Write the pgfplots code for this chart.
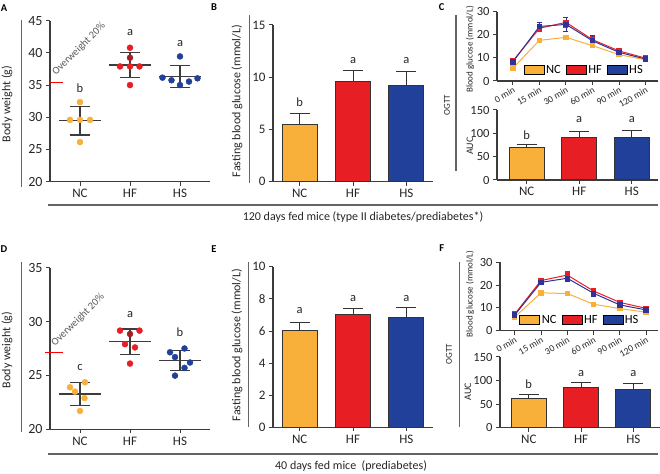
\documentclass[border=0pt]{standalone}
\usepackage{pgfplots}
\pgfplotsset{compat=1.18}
\usepackage{fontspec}
\setmainfont{Carlito}
\definecolor{ncC}{RGB}{249,176,59}
\definecolor{hfC}{RGB}{232,30,37}
\definecolor{hfD}{RGB}{165,30,35}
\definecolor{hsC}{RGB}{33,64,154}
\definecolor{lnHS}{RGB}{50,50,150}
\definecolor{axC}{RGB}{60,60,60}
\definecolor{grC}{RGB}{100,100,100}
\newcommand{\fs}[1]{\fontsize{#1}{#1}\selectfont}
\tikzset{lett/.style={font=\fs{12.5}, text=black!85}}
\pgfplotsset{
  base/.style={scale only axis, anchor=south west, clip=false,
    axis x line*=bottom, axis y line*=left,
    axis line style={line width=1.1pt, axC},
    every tick/.style={line width=1pt, axC},
    tick align=outside, major tick length=4pt,
    /pgf/number format/assume math mode=true,
    tick label style={font=\fs{12.5}, text=black!85},
    xtick={0,1,2}, xticklabels={NC,HF,HS},
    x tick label style={font=\fs{13}},
  },
  bars/.style={ybar, bar width=35pt, bar shift=0pt, draw=black!80, line width=1pt,
    error bars/y dir=plus, error bars/y explicit,
    error bars/error bar style={line width=1pt, black!80},
    error bars/error mark options={line width=1pt, black!80, mark size=10pt, rotate=90}},
  dots/.style={only marks, mark=*, mark size=3pt},
  mean/.style={no marks, line width=1.3pt, axC},
  sd/.style={draw=none, mark=none, error bars/y dir=both, error bars/y explicit,
    error bars/error bar style={line width=1.3pt, axC},
    error bars/error mark options={line width=1.3pt, axC, mark size=10pt, rotate=90}},
  ogtt/.style={line width=1pt, mark=square*, mark size=2.2pt,
    error bars/y dir=both, error bars/y explicit,
    error bars/error bar style={line width=0.8pt},
    error bars/error mark options={line width=0.8pt, mark size=2.5pt, rotate=90}},
}
\begin{document}
\begin{tikzpicture}[x=1pt,y=1pt]
\useasboundingbox (0,0) rectangle (660,473);

% ---------------- Panel A ----------------
\begin{axis}[base, at={(50pt,291.3pt)}, width=160pt, height=161pt,
  xmin=-0.6, xmax=2.6, ymin=20, ymax=45, ytick={20,25,30,35,40,45},
  y tick label style={font=\fs{14}}]
\addplot[dots, color=ncC] coordinates {(0,32.35) (-0.2,29.6) (0,29.6) (0.2,29.6) (0,26.15)};
\addplot[dots, color=hfC] coordinates {(1,40.8) (0.8,37.9) (1,37.9) (1.19,37.9) (1,35.0)};
\addplot[dots, color=hfD] coordinates {(1,39.25)};
\addplot[dots, color=hsC] coordinates {(2,39.45) (1.65,36.15) (1.83,35.75) (2.18,35.55) (2.35,36.05) (2,35.0)};
\addplot[mean] coordinates {(-0.42,29.45) (0.42,29.45)};
\addplot[mean] coordinates {(0.58,38.1) (1.42,38.1)};
\addplot[mean] coordinates {(1.58,36.35) (2.42,36.35)};
\addplot[sd] coordinates {(0,29.45) +- (0,2.2) (1,38.1) +- (0,1.95) (2,36.35) +- (0,1.7)};
\draw[red, line width=1pt] (axis cs:-0.6,35.4) -- (axis cs:-0.35,35.4);
\node[lett] at (axis cs:0,34.55) {b};
\node[lett] at (axis cs:1,43.1) {a};
\node[lett] at (axis cs:2,41.5) {a};
\end{axis}

% ---------------- Panel B ----------------
\begin{axis}[base, at={(273pt,291.3pt)}, width=160pt, height=156.7pt,
  xmin=-0.5, xmax=2.5, ymin=0, ymax=15, ytick={0,5,10,15},
  y tick label style={font=\fs{13}}]
\addplot[bars, fill=ncC] coordinates {(0,5.45) +- (0,1.1)};
\addplot[bars, fill=hfC] coordinates {(1,9.6) +- (0,1.05)};
\addplot[bars, fill=hsC] coordinates {(2,9.25) +- (0,1.3)};
\node[lett] at (axis cs:0,7.6) {b};
\node[lett] at (axis cs:1,11.6) {a};
\node[lett] at (axis cs:2,11.6) {a};
\end{axis}

% ---------------- Panel C top ----------------
\begin{axis}[base, at={(497pt,392pt)}, width=161pt, height=69.3pt,
  xmin=-0.6, xmax=5.47, ymin=0, ymax=30, ytick={0,10,20,30},
  xtick={0,1,2,3,4,5}, xticklabels={0 min,15 min,30 min,60 min,90 min,120 min},
  x tick label style={font=\fs{9.5}, rotate=30, anchor=north east, inner sep=1pt},
  legend style={at={(0.165,0.16)}, anchor=west, draw=none, fill=none, font=\fs{12.5},
    legend columns=-1, inner sep=0pt, /tikz/every even column/.append style={column sep=3pt}},
  legend image code/.code={\fill[#1] (0pt,-4.5pt) rectangle (20pt,4.5pt);}]
\addplot[ogtt, color=ncC, forget plot] coordinates {(0,5.6) +- (0,0.5) (1,17.6) +- (0,1.0) (2,18.9) +- (0,0.7) (3,15.3) +- (0,0.8) (4,11.4) +- (0,0.6) (5,9.2) +- (0,0.4)};
\addplot[ogtt, color=hfC, forget plot] coordinates {(0,8.7) +- (0,0.9) (1,22.8) +- (0,1.3) (2,25.4) +- (0,2.0) (3,17.9) +- (0,1.6) (4,13.0) +- (0,1.0) (5,9.9) +- (0,0.6)};
\addplot[ogtt, color=lnHS, forget plot] coordinates {(0,8.3) +- (0,1.0) (1,23.6) +- (0,1.8) (2,24.5) +- (0,3.0) (3,17.4) +- (0,2.2) (4,12.4) +- (0,1.0) (5,9.5) +- (0,0.6)};
\addlegendimage{fill=ncC}\addlegendentry{NC}
\addlegendimage{fill=hfC}\addlegendentry{HF}
\addlegendimage{fill=hsC}\addlegendentry{HS}
\end{axis}

% ---------------- Panel C bottom ----------------
\begin{axis}[base, at={(497pt,293pt)}, width=161pt, height=70pt,
  xmin=-0.566, xmax=2.5, ymin=0, ymax=150, ytick={0,50,100,150}]
\addplot[bars, fill=ncC] coordinates {(0,69.5) +- (0,7)};
\addplot[bars, fill=hfC] coordinates {(1,90) +- (0,13)};
\addplot[bars, fill=hsC] coordinates {(2,92) +- (0,15)};
\node[lett] at (axis cs:0,96) {b};
\node[lett] at (axis cs:1,130) {a};
\node[lett] at (axis cs:2,130) {a};
\end{axis}

% ---------------- Panel D ----------------
\begin{axis}[base, at={(50pt,43.7pt)}, width=160pt, height=161.6pt,
  xmin=-0.6, xmax=2.6, ymin=20, ymax=35, ytick={20,25,30,35},
  y tick label style={font=\fs{14}}]
\addplot[dots, color=ncC] coordinates {(-0.2,23.9) (0.1,24.36) (-0.1,23.5) (0.09,22.9) (0,21.7)};
\addplot[dots, color=hfC] coordinates {(0.8,29.16) (1.19,29.16) (0.9,27.9) (1.1,27.6) (1,26.1)};
\addplot[dots, color=hfD] coordinates {(1,28.85)};
\addplot[dots, color=hsC] coordinates {(1.8,27.15) (2.09,27.5) (1.9,26.7) (2.2,26.2) (2.09,25.7) (1.9,24.98)};
\addplot[mean] coordinates {(-0.42,23.28) (0.42,23.28)};
\addplot[mean] coordinates {(0.58,28.13) (1.42,28.13)};
\addplot[mean] coordinates {(1.58,26.37) (2.42,26.37)};
\addplot[sd] coordinates {(0,23.28) +- (0,1.08) (1,28.13) +- (0,1.17) (2,26.37) +- (0,0.93)};
\draw[red, line width=1pt] (axis cs:-0.7,27.1) -- (axis cs:-0.35,27.1);
\node[lett] at (axis cs:0,25.7) {c};
\node[lett] at (axis cs:1,30.7) {a};
\node[lett] at (axis cs:2,29.0) {b};
\end{axis}

% ---------------- Panel E ----------------
\begin{axis}[base, at={(273pt,45.5pt)}, width=160pt, height=160.8pt,
  xmin=-0.5, xmax=2.5, ymin=0, ymax=10, ytick={0,2,4,6,8,10},
  y tick label style={font=\fs{13}}]
\addplot[bars, fill=ncC] coordinates {(0,6.05) +- (0,0.5)};
\addplot[bars, fill=hfC] coordinates {(1,7.0) +- (0,0.42)};
\addplot[bars, fill=hsC] coordinates {(2,6.83) +- (0,0.65)};
\node[lett] at (axis cs:0,7.25) {a};
\node[lett] at (axis cs:1,8.0) {a};
\node[lett] at (axis cs:2,8.0) {a};
\end{axis}

% ---------------- Panel F top ----------------
\begin{axis}[base, at={(500pt,142.3pt)}, width=158pt, height=68.4pt,
  xmin=-0.56, xmax=5.45, ymin=0, ymax=30, ytick={0,10,20,30},
  xtick={0,1,2,3,4,5}, xticklabels={0 min,15 min,30 min,60 min,90 min,120 min},
  x tick label style={font=\fs{9.5}, rotate=30, anchor=north east, inner sep=1pt},
  legend style={at={(0.122,0.157)}, anchor=west, draw=none, fill=none, font=\fs{12.5},
    legend columns=-1, inner sep=0pt, /tikz/every even column/.append style={column sep=3pt}},
  legend image code/.code={\fill[#1] (0pt,-4.5pt) rectangle (20pt,4.5pt);}]
\addplot[ogtt, color=ncC, forget plot] coordinates {(0,6.0) +- (0,0.4) (1,16.6) +- (0,0.5) (2,16.3) +- (0,0.5) (3,11.6) +- (0,0.6) (4,9.7) +- (0,0.4) (5,8.1) +- (0,0.3)};
\addplot[ogtt, color=hfC, forget plot] coordinates {(0,7.3) +- (0,0.5) (1,22.0) +- (0,0.8) (2,24.4) +- (0,1.5) (3,17.4) +- (0,1.0) (4,12.4) +- (0,0.7) (5,9.8) +- (0,0.5)};
\addplot[ogtt, color=lnHS, forget plot] coordinates {(0,6.9) +- (0,0.5) (1,21.2) +- (0,0.8) (2,23.0) +- (0,1.5) (3,16.4) +- (0,1.5) (4,11.3) +- (0,0.8) (5,9.1) +- (0,0.5)};
\addlegendimage{fill=ncC}\addlegendentry{NC}
\addlegendimage{fill=hfC}\addlegendentry{HF}
\addlegendimage{fill=hsC}\addlegendentry{HS}
\end{axis}

% ---------------- Panel F bottom ----------------
\begin{axis}[base, at={(500pt,45.3pt)}, width=160pt, height=70.7pt,
  xmin=-0.55, xmax=2.51, ymin=0, ymax=150, ytick={0,50,100,150}]
\addplot[bars, fill=ncC] coordinates {(0,61.5) +- (0,8.5)};
\addplot[bars, fill=hfC] coordinates {(1,85.5) +- (0,10.5)};
\addplot[bars, fill=hsC] coordinates {(2,80.5) +- (0,13)};
\node[lett] at (axis cs:0,92) {b};
\node[lett] at (axis cs:1,114) {a};
\node[lett] at (axis cs:2,114) {a};
\end{axis}

% ---------------- decorations ----------------
\node[rotate=45, anchor=base west, inner sep=0pt, font=\fs{10.5}, text=black!65] at (56,397) {Overweight 20\%};
\node[rotate=45, anchor=base west, inner sep=0pt, font=\fs{10.5}, text=black!65] at (55,126) {Overweight 20\%};
\begin{scope}[font=\fs{12}, text=black!85]
\node[rotate=90] at (7,369) {Body weight (g)};
\node[rotate=90] at (237,372) {Fasting blood glucose (mmol/L)};
\node[rotate=90] at (7,123) {Body weight (g)};
\node[rotate=90] at (237,128) {Fasting blood glucose (mmol/L)};
\end{scope}
\begin{scope}[font=\fs{9}, text=black!85]
\node[rotate=90] at (470,423.5) {Blood glucose (mmol/L)};
\node[rotate=90] at (447,368) {OGTT};
\node[rotate=90, font=\fs{10}] at (470,327) {AUC};
\node[rotate=90] at (470,179) {Blood glucose (mmol/L)};
\node[rotate=90] at (449,119) {OGTT};
\node[rotate=90, font=\fs{10}] at (468,81.3) {AUC};
\end{scope}
\begin{scope}[font=\bfseries\fs{10.5}]
\node at (4,464.5) {A};
\node at (214,465.5) {B};
\node at (441.7,465.5) {C};
\node at (4,224) {D};
\node at (214,224) {E};
\node at (441.7,224.7) {F};
\end{scope}
\begin{scope}[grC, line width=1.3pt]
\draw (21.7,453) -- (21.7,286);
\draw (249.3,458) -- (249.3,290.3);
\draw (456,458) -- (456,302);
\draw (21.7,211.3) -- (21.7,41.3);
\draw (248.3,211.3) -- (248.3,45.7);
\draw (459.3,211.3) -- (459.3,46.3);
\draw[line width=1.6pt] (48,268) -- (658,268);
\draw[line width=1.6pt] (48,19) -- (658,19);
\end{scope}
\node[font=\fs{12}, text=black!85] at (363,256) {120 days fed mice (type II diabetes/prediabetes*)};
\node[font=\fs{12}, text=black!85] at (351,7) {40 days fed mice \ (prediabetes)};
\end{tikzpicture}
\end{document}
